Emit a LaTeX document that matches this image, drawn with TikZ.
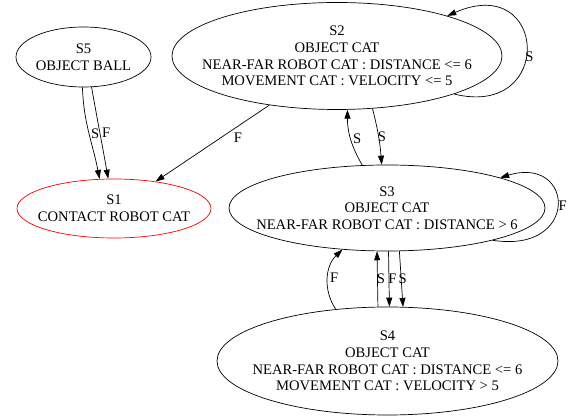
\documentclass[tikz,border=0pt]{standalone}
\usepackage{fontspec}
\setmainfont{Liberation Serif}
\usepackage{tikz}
\usetikzlibrary{shapes.geometric}
\usetikzlibrary{arrows.meta}

\begin{document}
\begin{tikzpicture}[x=1pt,y=1pt,
                    font=\fontsize{14.6}{16.7}\selectfont,
                    line width=0.7pt,
                    state/.style={ellipse,draw=black,inner sep=0pt},
                    edgearrow/.style={draw=black,-{Triangle[length=9pt,width=6pt]}},
                    lbl/.style={inner sep=1pt},
                   ]
  \useasboundingbox (0,0) rectangle (573,417);
  % states
  \node[state,minimum width=135,minimum height=60,
        label={[align=center]center:{S5\\OBJECT BALL}}] (s5) at (83.5,360) {};
  \node[state,minimum width=330,minimum height=107,
        label={[align=center]center:{S2\\OBJECT CAT\\NEAR-FAR ROBOT CAT : DISTANCE <= 6\\MOVEMENT CAT : VELOCITY <= 5}}] (s2) at (337,361) {};
  \node[state,draw=red,minimum width=194,minimum height=59,
        label={[align=center]center:{S1\\CONTACT ROBOT CAT}}] (s1) at (114,208.5) {};
  \node[state,minimum width=316,minimum height=86,
        label={[align=center]center:{S3\\OBJECT CAT\\NEAR-FAR ROBOT CAT : DISTANCE > 6}}] (s3) at (387,209) {};
  \node[state,minimum width=341,minimum height=108,
        label={[align=center]center:{S4\\OBJECT CAT\\NEAR-FAR ROBOT CAT : DISTANCE <= 6\\MOVEMENT CAT : VELOCITY > 5}}] (s4) at (387.5,56) {};

  % transitions
  \draw[edgearrow] (s5.-92) to[out=-88,in=101] node[lbl,right=1pt] {S} (s1.116);
  \draw[edgearrow] (s5.-75) to[out=-80,in=100] node[lbl,right=1pt] {F} (s1.101);
  \draw[edgearrow] (s2.-144) -- node[lbl,pos=.43,right=12pt] {F} (s1.33);
  \draw[edgearrow] (s2.-18) .. controls (555,298) and (548,445) .. node[lbl,pos=.45,right=-2pt] {S} (s2.20);
  \draw[edgearrow] (s3.120) to[bend left=15] node[lbl,right=1pt] {S} (s2.-79);
  \draw[edgearrow] (s2.-56) to[bend left=5] node[lbl,right=-2pt] {S} (s3.97);
  \draw[edgearrow] (s3.-17) .. controls (580,163) and (575,262) .. node[lbl,right=0pt] {F} (s3.15);
  \draw[edgearrow] (s4.135) to[bend left=40] node[lbl,right=1pt] {F} (s3.-137);
  \draw[edgearrow] (s4.100) -- node[lbl,right=-2pt] {S} (s3.-103);
  \draw[edgearrow] (s3.-88) -- node[lbl,right=-2pt] {F} (s4.88);
  \draw[edgearrow] (s3.-74) -- node[lbl,right=-4pt] {S} (s4.74);
\end{tikzpicture}
\end{document}
